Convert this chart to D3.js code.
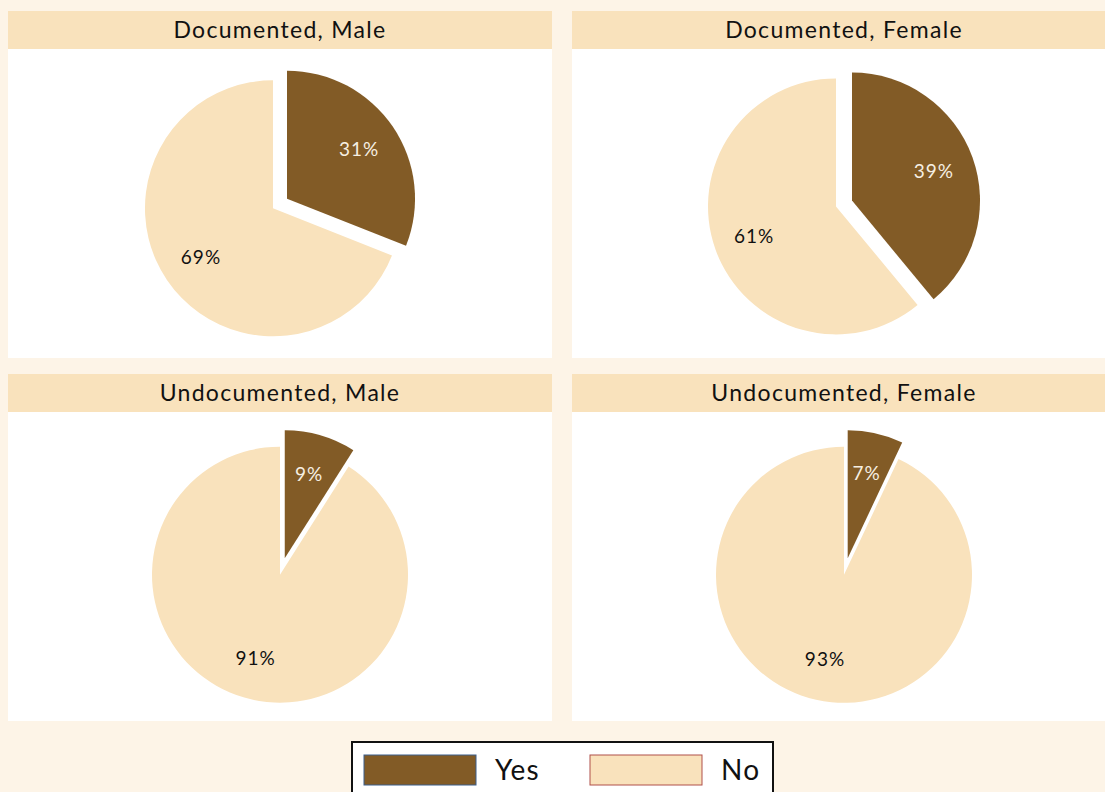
<!DOCTYPE html>
<html>
<head>
<meta charset="utf-8">
<script src="https://cdn.jsdelivr.net/npm/d3@7"></script>
<style>
	html, body { margin: 0; padding: 0; background: #fdf4e7; }
	svg { display: block; font-family: Lato, "Open Sans", sans-serif; }
</style>
</head>
<body>
<svg id="chart" width="1105" height="792"></svg>
<script>
/* global d3 */

const panelTitles = ['Documented, Male', 'Documented, Female', 'Undocumented, Male', 'Undocumented, Female'];
const categories = ['Yes', 'No'];
const yesValues = [31, 39, 9, 7];
const noValues = [69, 61, 91, 93];

const colors = { Yes: '#825b26', No: '#f9e2bc' };
const legendStroke = { Yes: '#3b5e8c', No: '#b0504a' };

const svg = d3.select('#chart');

const colX = [8, 572];
const rowY = [11, 374];
const panelW = 544;
const headH = 38;
const bodyH = 309;
const radius = 128;
const explode = 17;

const pie = d3.pie().sort(null).value(d => d.value);
const arc = d3.arc().innerRadius(0).outerRadius(radius);

panelTitles.forEach((title, i) => {
	const px = colX[i % 2];
	const py = rowY[Math.floor(i / 2)];
	const g = svg.append('g').attr('transform', `translate(${px},${py})`);

	g.append('rect')
		.attr('width', panelW).attr('height', headH)
		.attr('fill', '#f9e2bc');
	g.append('rect')
		.attr('y', headH)
		.attr('width', panelW).attr('height', bodyH)
		.attr('fill', '#fff');
	g.append('text')
		.attr('x', panelW / 2).attr('y', headH / 2)
		.attr('dy', '0.35em')
		.attr('text-anchor', 'middle')
		.attr('font-size', 23)
		.attr('letter-spacing', 1.3)
		.attr('fill', '#111')
		.text(title);

	const data = [
		{ cat: categories[0], value: yesValues[i] },
		{ cat: categories[1], value: noValues[i] },
	];
	const arcs = pie(data);

	const pg = g.append('g');
	const slices = pg.selectAll('g.slice')
		.data(arcs)
		.enter().append('g')
			.attr('class', 'slice')
			.attr('transform', d => {
				if (d.data.cat !== 'Yes') { return null; }
				const a = (d.startAngle + d.endAngle) / 2;
				return `translate(${Math.sin(a) * explode},${-Math.cos(a) * explode})`;
			});

	slices.append('path')
		.attr('d', arc)
		.attr('fill', d => colors[d.data.cat]);

	slices.append('text')
		.attr('transform', d => {
			const a = (d.startAngle + d.endAngle) / 2;
			const r = radius * 0.68;
			return `translate(${Math.sin(a) * r},${-Math.cos(a) * r})`;
		})
		.attr('dy', '0.35em')
		.attr('text-anchor', 'middle')
		.attr('font-size', 19)
		.attr('letter-spacing', 1)
		.attr('fill', d => d.data.cat === 'Yes' ? '#f6efe2' : '#111')
		.text(d => `${d.data.value}%`);

	// centre the exploded pie in the panel body
	const bb = pg.node().getBBox();
	const cx = panelW / 2 - (bb.x + bb.width / 2);
	const cy = headH + bodyH / 2 - (bb.y + bb.height / 2);
	pg.attr('transform', `translate(${cx},${cy})`);
});

// legend
const legend = svg.append('g').attr('transform', 'translate(352,742)');
legend.append('rect')
	.attr('width', 421).attr('height', 70)
	.attr('fill', '#fff')
	.attr('stroke', '#111')
	.attr('stroke-width', 2);

const legendX = d3.scaleOrdinal().domain(categories).range([12, 238]);

const items = legend.selectAll('g.item')
	.data(categories)
	.enter().append('g')
		.attr('class', 'item')
		.attr('transform', d => `translate(${legendX(d)},13)`);

items.append('rect')
	.attr('width', 112).attr('height', 30)
	.attr('fill', d => colors[d])
	.attr('stroke', d => legendStroke[d])
	.attr('stroke-width', 1);

items.append('text')
	.attr('x', 131).attr('y', 15)
	.attr('dy', '0.35em')
	.attr('font-size', 28)
	.attr('letter-spacing', 1.2)
	.attr('fill', '#111')
	.text(d => d);
</script>
</body>
</html>
